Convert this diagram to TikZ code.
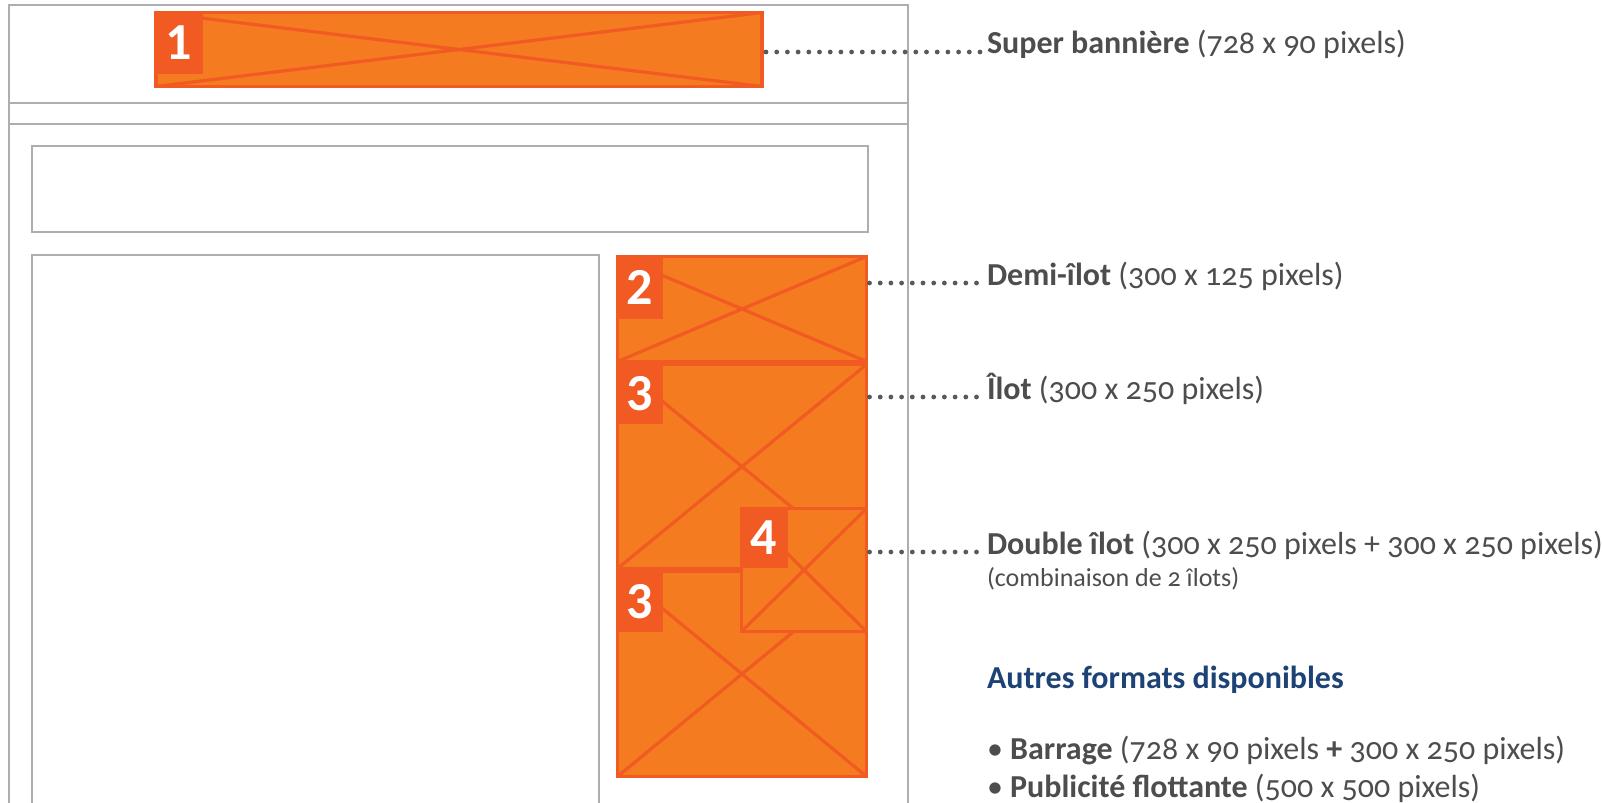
\documentclass[tikz,border=0pt]{standalone}
\usepackage{fontspec}
\setmainfont{Carlito}[Numbers=OldStyle]
\newfontfamily\digitfont{Carlito}[Numbers=Lining]
\definecolor{frame}{HTML}{AEAEB2}
\definecolor{adfill}{HTML}{F47B20}
\definecolor{adline}{HTML}{F15A22}
\definecolor{txt}{HTML}{4D4D4F}
\definecolor{dotc}{HTML}{58595B}
\definecolor{navy}{HTML}{1D4275}
\tikzset{
  gray line/.style={draw=frame, line width=1.4pt},
  adbox/.style={draw=adline, fill=adfill, line width=1.6pt, inner sep=0pt, outer sep=0pt},
  adcross/.style={draw=adline, line width=1.6pt},
  numbox/.style={fill=adline, text=white, inner sep=0pt, outer sep=0pt, font=\digitfont\bfseries\fontsize{26}{26}\selectfont},
  label text/.style={anchor=base west, inner sep=0pt, outer sep=0pt, text=txt, font=\fontsize{16}{19}\selectfont},
  small text/.style={anchor=base west, inner sep=0pt, outer sep=0pt, text=txt, font=\fontsize{13}{15}\selectfont},
  dotline/.style={draw=dotc, line width=2.4pt, line cap=round, dash pattern=on 0pt off 5.35pt},
}
\begin{document}
\begin{tikzpicture}[x=0.5pt,y=-0.5pt]
\useasboundingbox (0,0) rectangle (1602,803);
% page wireframe
\draw[gray line] (9,810) -- (9,5) -- (908,5) -- (908,810);
\draw[gray line] (9,103) -- (908,103);
\draw[gray line] (9,124) -- (908,124);
\draw[gray line] (32,146) rectangle (868,232);
\draw[gray line] (32,810) -- (32,255) -- (599,255) -- (599,810);
% ad boxes
\node[adbox, minimum width=303pt, minimum height=37pt] (b1) at (459,49.5) {};
\draw[adcross] (b1.north west) -- (b1.south east) (b1.south west) -- (b1.north east);
\node[adbox, minimum width=124.5pt, minimum height=52.5pt] (b2) at (742,309) {};
\draw[adcross] (b2.north west) -- (b2.south east) (b2.south west) -- (b2.north east);
\node[adbox, minimum width=124.5pt, minimum height=102pt] (b3) at (742,466.5) {};
\draw[adcross] (b3.north west) -- (b3.south east) (b3.south west) -- (b3.north east);
\node[adbox, minimum width=124.5pt, minimum height=102.5pt] (b5) at (742,674) {};
\draw[adcross] (b5.north west) -- (b5.south east) (b5.south west) -- (b5.north east);
\node[adbox, minimum width=62.5pt, minimum height=61.5pt] (b4) at (804,570) {};
\draw[adcross] (b4.north west) -- (b4.south east) (b4.south west) -- (b4.north east);
% number tags
\node[numbox, anchor=north west, minimum width=24pt, minimum height=31.5pt] (n1) at ([shift={(-1.5,-1.5)}]b1.north west) {1};
\node[numbox, anchor=north west, minimum width=23.5pt, minimum height=32pt] (n2) at ([shift={(-1.5,-1.5)}]b2.north west) {2};
\node[numbox, anchor=north west, minimum width=23.5pt, minimum height=30.5pt] (n3) at ([shift={(-1.5,-1.5)}]b3.north west) {3};
\node[numbox, anchor=north west, minimum width=23.5pt, minimum height=30pt] (n5) at ([shift={(-1.5,0)}]b5.north west) {3};
\node[numbox, anchor=north west, minimum width=24pt, minimum height=30.5pt] (n4) at ([shift={(-1.5,-1.5)}]b4.north west) {4};
% labels
\node[label text] (t1) at (987,54) {\textbf{Super bannière} (728 x 90 pixels)};
\node[label text] (t2) at (987,285) {\textbf{Demi-îlot} (300 x 125 pixels)};
\node[label text] (t3) at (987,399) {\textbf{Îlot} (300 x 250 pixels)};
\node[label text] (t4) at (987,554) {\textbf{Double îlot} (300 x 250 pixels + 300 x 250 pixels)};
\node[small text] (t5) at (987,586) {(combinaison de 2 îlots)};
\node[label text, text=navy] (t6) at (987,688) {\textbf{Autres formats disponibles}};
\node[label text] (t7) at (987,759) {• \textbf{Barrage} (728 x 90 pixels \textbf{+} 300 x 250 pixels)};
\node[label text] (t8) at (987,797) {• \textbf{Publicité flottante} (500 x 500 pixels)};
% dotted leaders
\coordinate (d1) at (983,52);
\coordinate (d2) at (983,283);
\coordinate (d3) at (983,397);
\coordinate (d4) at (983,552);
\draw[dotline] (d1 -| b1.east) ++(4,0) -- (d1);
\draw[dotline] (d2 -| b2.east) ++(3,0) -- (d2);
\draw[dotline] (d3 -| b3.east) ++(3,0) -- (d3);
\draw[dotline] (d4 -| b4.east) ++(3,0) -- (d4);
\end{tikzpicture}
\end{document}
